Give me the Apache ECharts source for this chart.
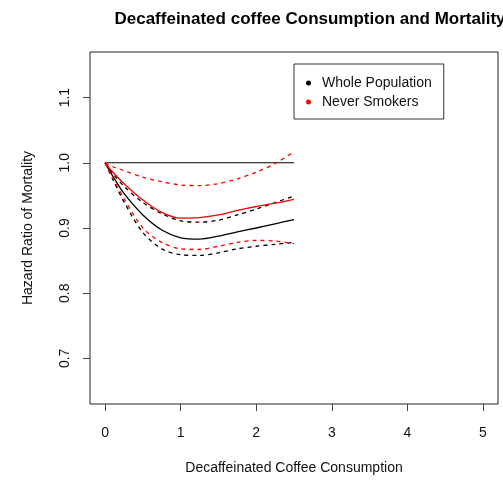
<!DOCTYPE html>
<html>
<head>
<meta charset="utf-8">
<script src="https://cdn.jsdelivr.net/npm/echarts@6/dist/echarts.min.js"></script>
<style>html,body{margin:0;padding:0;background:#fff}#c{width:503px;height:480px}</style>
</head>
<body>
<div id="c"></div>
<script>
// Data
var xVals = [0, 0.1, 0.25, 0.5, 0.75, 1, 1.25, 1.5, 1.75, 2, 2.25, 2.5];
var wholeEst   = [1.0, 0.980, 0.953, 0.920, 0.897, 0.885, 0.883, 0.8875, 0.894, 0.900, 0.9065, 0.913];
var wholeUpper = [1.0, 0.984, 0.964, 0.939, 0.922, 0.911, 0.909, 0.912, 0.920, 0.929, 0.939, 0.949];
var wholeLower = [1.0, 0.975, 0.940, 0.893, 0.868, 0.859, 0.858, 0.862, 0.868, 0.872, 0.875, 0.878];
var neverEst   = [1.0, 0.986, 0.968, 0.943, 0.924, 0.915, 0.916, 0.920, 0.927, 0.933, 0.938, 0.944];
var neverUpper = [1.0, 0.994, 0.988, 0.978, 0.971, 0.966, 0.965, 0.968, 0.9755, 0.9855, 0.999, 1.017];
var neverLower = [1.0, 0.977, 0.945, 0.900, 0.878, 0.868, 0.867, 0.872, 0.878, 0.881, 0.880, 0.876];
var refX = [0, 2.5];
var refY = [1.0, 1.0];
var xTicks = [0, 1, 2, 3, 4, 5];
var yTicks = [0.7, 0.8, 0.9, 1.0, 1.1];
var legendNames = ['Whole Population', 'Never Smokers'];

function pairs(xs, ys) { return xs.map(function (x, i) { return [x, ys[i]]; }); }

var FONT = 'Liberation Sans, Arial, sans-serif';
function line(name, color, ys, dashed, z) {
  return {
    name: name, type: 'line', data: pairs(xVals, ys), showSymbol: false, symbol: 'none',
    smooth: 0.3, color: color, z: z,
    lineStyle: { color: color, width: 1.3, type: dashed ? [4, 4] : 'solid' },
    itemStyle: { color: color }, silent: true, animation: false
  };
}

var chart = echarts.init(document.getElementById('c'), null, { renderer: 'canvas' });
chart.setOption({
  animation: false,
  backgroundColor: '#fff',
  title: {
    text: 'Decaffeinated coffee Consumption and Mortality',
    left: 305, top: 6, textAlign: 'center',
    textStyle: { fontFamily: FONT, fontSize: 17, fontWeight: 'bold', color: '#000' }
  },
  grid: { left: 90, top: 52, right: 5, bottom: 76, show: true, borderColor: '#222', borderWidth: 1, backgroundColor: 'transparent' },
  legend: {
    orient: 'vertical', left: 294, top: 64,
    data: [
      { name: legendNames[0], icon: 'circle', itemStyle: { color: '#000' } },
      { name: legendNames[1], icon: 'circle', itemStyle: { color: '#ff0000' } }
    ],
    itemWidth: 5, itemHeight: 5, itemGap: 3,
    padding: [11, 12, 9, 12],
    borderColor: '#333', borderWidth: 1, backgroundColor: '#fff',
    selectedMode: false,
    textStyle: { fontFamily: FONT, fontSize: 14, color: '#111', lineHeight: 16, padding: [0, 0, 0, 6] }
  },
  xAxis: {
    type: 'value', min: -0.2, max: 5.2,
    name: 'Decaffeinated Coffee Consumption', nameLocation: 'middle', nameGap: 57,
    nameTextStyle: { fontFamily: FONT, fontSize: 14, color: '#111' },
    axisLine: { show: false, onZero: false },
    axisTick: { show: true, customValues: xTicks, length: 7, lineStyle: { color: '#444' } },
    axisLabel: { customValues: xTicks, margin: 22, fontFamily: FONT, fontSize: 14, color: '#111' },
    splitLine: { show: false }
  },
  yAxis: {
    type: 'value', min: 0.63, max: 1.17,
    name: 'Hazard Ratio of Mortality', nameLocation: 'middle', nameGap: 55, nameRotate: 90,
    nameTextStyle: { fontFamily: FONT, fontSize: 14, color: '#111' },
    axisLine: { show: false, onZero: false },
    axisTick: { show: true, customValues: yTicks, length: 7, lineStyle: { color: '#444' } },
    axisLabel: { customValues: yTicks, rotate: 90, margin: 18, fontFamily: FONT, fontSize: 14, color: '#111',
      formatter: function (v) { return v.toFixed(1); } },
    splitLine: { show: false }
  },
  series: [
    { name: 'ref', type: 'line', data: pairs(refX, refY), showSymbol: false, symbol: 'none', z: 2,
      lineStyle: { color: '#000', width: 1.1 }, silent: true },
    line(legendNames[0], '#000', wholeEst, false, 3),
    line(legendNames[0], '#000', wholeUpper, true, 3),
    line(legendNames[0], '#000', wholeLower, true, 3),
    line(legendNames[1], '#ff0000', neverEst, false, 4),
    line(legendNames[1], '#ff0000', neverUpper, true, 4),
    line(legendNames[1], '#ff0000', neverLower, true, 4)
  ]
});
</script>
</body>
</html>
